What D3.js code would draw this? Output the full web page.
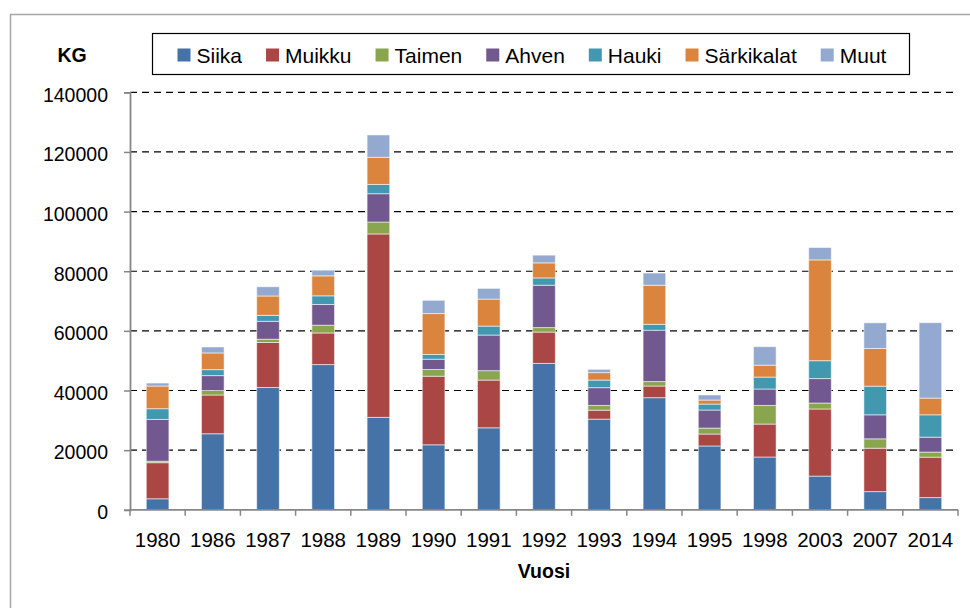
<!DOCTYPE html>
<html lang="fi">

<head>
    <meta charset="UTF-8">
    <title>Saalis lajeittain</title>
    <script src="https://d3js.org/d3.v7.min.js"></script>
</head>
<style>
    body {
        margin: 0;
        background: #fff;
    }

    text {
        font-family: "Liberation Sans", Arial, sans-serif;
        fill: #000;
    }
</style>

<body>
    <svg width="970" height="608"></svg>
    <script>
        // Data (kg per species and year)
        var years = ["1980", "1986", "1987", "1988", "1989", "1990", "1991", "1992", "1993", "1994", "1995", "1998", "2003", "2007", "2014"];
        var species = ["Siika", "Muikku", "Taimen", "Ahven", "Hauki", "Särkikalat", "Muut"];
        var siika = [3700, 25500, 41000, 48700, 31000, 21800, 27500, 49100, 30400, 37600, 21400, 17700, 11300, 6100, 4100];
        var muikku = [12100, 13000, 15100, 10600, 61500, 23000, 16000, 10500, 3000, 3900, 4000, 11050, 22500, 14550, 13550];
        var taimen = [500, 1500, 1100, 2600, 4000, 2250, 3150, 1500, 1600, 1500, 2000, 6250, 2000, 3150, 1700];
        var ahven = [14000, 5000, 6000, 6950, 9500, 3450, 11950, 14200, 5950, 17200, 6050, 5500, 8200, 8050, 5000];
        var hauki = [3600, 2000, 2000, 2900, 3100, 1600, 3000, 2450, 2550, 2000, 2000, 4000, 6000, 9600, 7500];
        var sarkikalat = [7600, 5600, 6500, 6700, 9100, 13700, 9050, 5050, 2500, 13100, 1350, 4000, 33800, 12650, 5600];
        var muut = [1000, 2000, 3100, 1900, 7500, 4450, 3600, 2600, 1100, 4100, 1700, 6200, 4150, 8600, 25300];
        var yTicks = [0, 20000, 40000, 60000, 80000, 100000, 120000, 140000];

        var colors = ["#4572A7", "#AA4643", "#89A54E", "#71588F", "#4198AF", "#DB843D", "#93A9CF"];
        var series = [siika, muikku, taimen, ahven, hauki, sarkikalat, muut];

        var svg = d3.select("svg");

        // outer chart frame (runs off the right and bottom)
        svg.append("rect")
            .attr("x", 10.5)
            .attr("y", 14.5)
            .attr("width", 980)
            .attr("height", 620)
            .style("fill", "none")
            .style("stroke", "#a6a6a6")
            .style("stroke-width", 1.5);

        var plotLeft = 130, plotRight = 958, plotTop = 92.3, plotBottom = 509.8;

        var x = d3.scaleBand().domain(years).range([plotLeft, plotRight]).padding(0);
        var y = d3.scaleLinear().domain([0, 140000]).range([plotBottom, plotTop]);
        var barWidth = x.bandwidth() * 0.41;

        // table rows for the stack
        var rows = years.map(function (yr, i) {
            var row = { year: yr };
            species.forEach(function (s, k) { row[s] = series[k][i]; });
            return row;
        });
        var stacked = d3.stack().keys(species)(rows);

        // dashed gridlines
        svg.append("g")
            .selectAll("line")
            .data(yTicks.filter(function (d) { return d > 0; }))
            .join("line")
            .attr("x1", plotLeft)
            .attr("x2", plotRight - 4)
            .attr("y1", function (d) { return y(d); })
            .attr("y2", function (d) { return y(d); })
            .style("stroke", "#000")
            .style("stroke-width", 1.2)
            .style("stroke-dasharray", "7,5");

        // bars
        svg.append("g")
            .selectAll("g")
            .data(stacked)
            .join("g")
            .style("fill", function (d, i) { return colors[i]; })
            .selectAll("rect")
            .data(function (d) { return d; })
            .join("rect")
            .attr("x", function (d) { return x(d.data.year) + (x.bandwidth() - barWidth) / 2; })
            .attr("y", function (d) { return y(d[1]); })
            .attr("width", barWidth)
            .attr("height", function (d) { return y(d[0]) - y(d[1]); })
            .style("stroke", "rgba(255,255,255,0.55)")
            .style("stroke-width", 1);

        // y axis
        var yAxis = svg.append("g")
            .attr("transform", "translate(" + plotLeft + ",0)")
            .call(d3.axisLeft(y).tickValues(yTicks).tickSize(6).tickPadding(16).tickFormat(d3.format("d")));
        yAxis.select(".domain").style("stroke", "#868686").style("stroke-width", 1.8);
        yAxis.selectAll(".tick line").style("stroke", "#868686").style("stroke-width", 1.5);
        yAxis.selectAll("text")
            .style("font-size", "19.5px")
            .attr("dy", "0.45em");

        // x axis: labels under bars, ticks on category borders
        var xAxis = svg.append("g")
            .attr("transform", "translate(0," + plotBottom + ")")
            .call(d3.axisBottom(x).tickSize(0).tickPadding(23));
        xAxis.select(".domain").remove();
        xAxis.selectAll("text").style("font-size", "20.5px");

        svg.append("line")
            .attr("x1", plotLeft)
            .attr("x2", plotRight)
            .attr("y1", plotBottom)
            .attr("y2", plotBottom)
            .style("stroke", "#868686")
            .style("stroke-width", 1.8);

        var borders = years.map(function (d) { return x(d); }).concat([plotRight]);
        svg.append("g")
            .selectAll("line")
            .data(borders)
            .join("line")
            .attr("x1", function (d) { return d; })
            .attr("x2", function (d) { return d; })
            .attr("y1", plotBottom)
            .attr("y2", plotBottom + 6)
            .style("stroke", "#868686")
            .style("stroke-width", 1.5);

        // axis titles
        svg.append("text")
            .attr("x", 544)
            .attr("y", 578)
            .attr("text-anchor", "middle")
            .style("font-size", "19.5px")
            .style("font-weight", "bold")
            .text("Vuosi");

        svg.append("text")
            .attr("x", 72)
            .attr("y", 62)
            .attr("text-anchor", "middle")
            .style("font-size", "19.5px")
            .style("font-weight", "bold")
            .text("KG");

        // legend
        svg.append("rect")
            .attr("x", 152.5)
            .attr("y", 33.5)
            .attr("width", 757)
            .attr("height", 41)
            .style("fill", "#fff")
            .style("stroke", "#000")
            .style("stroke-width", 1.2);

        var lx = 177.5;
        species.forEach(function (s, i) {
            svg.append("rect")
                .attr("x", lx)
                .attr("y", 48.5)
                .attr("width", 13)
                .attr("height", 13)
                .style("fill", colors[i]);
            var t = svg.append("text")
                .attr("x", lx + 19)
                .attr("y", 62.5)
                .style("font-size", "21px")
                .text(s);
            lx += 19 + t.node().getComputedTextLength() + 24;
        });
    </script>
</body>

</html>
